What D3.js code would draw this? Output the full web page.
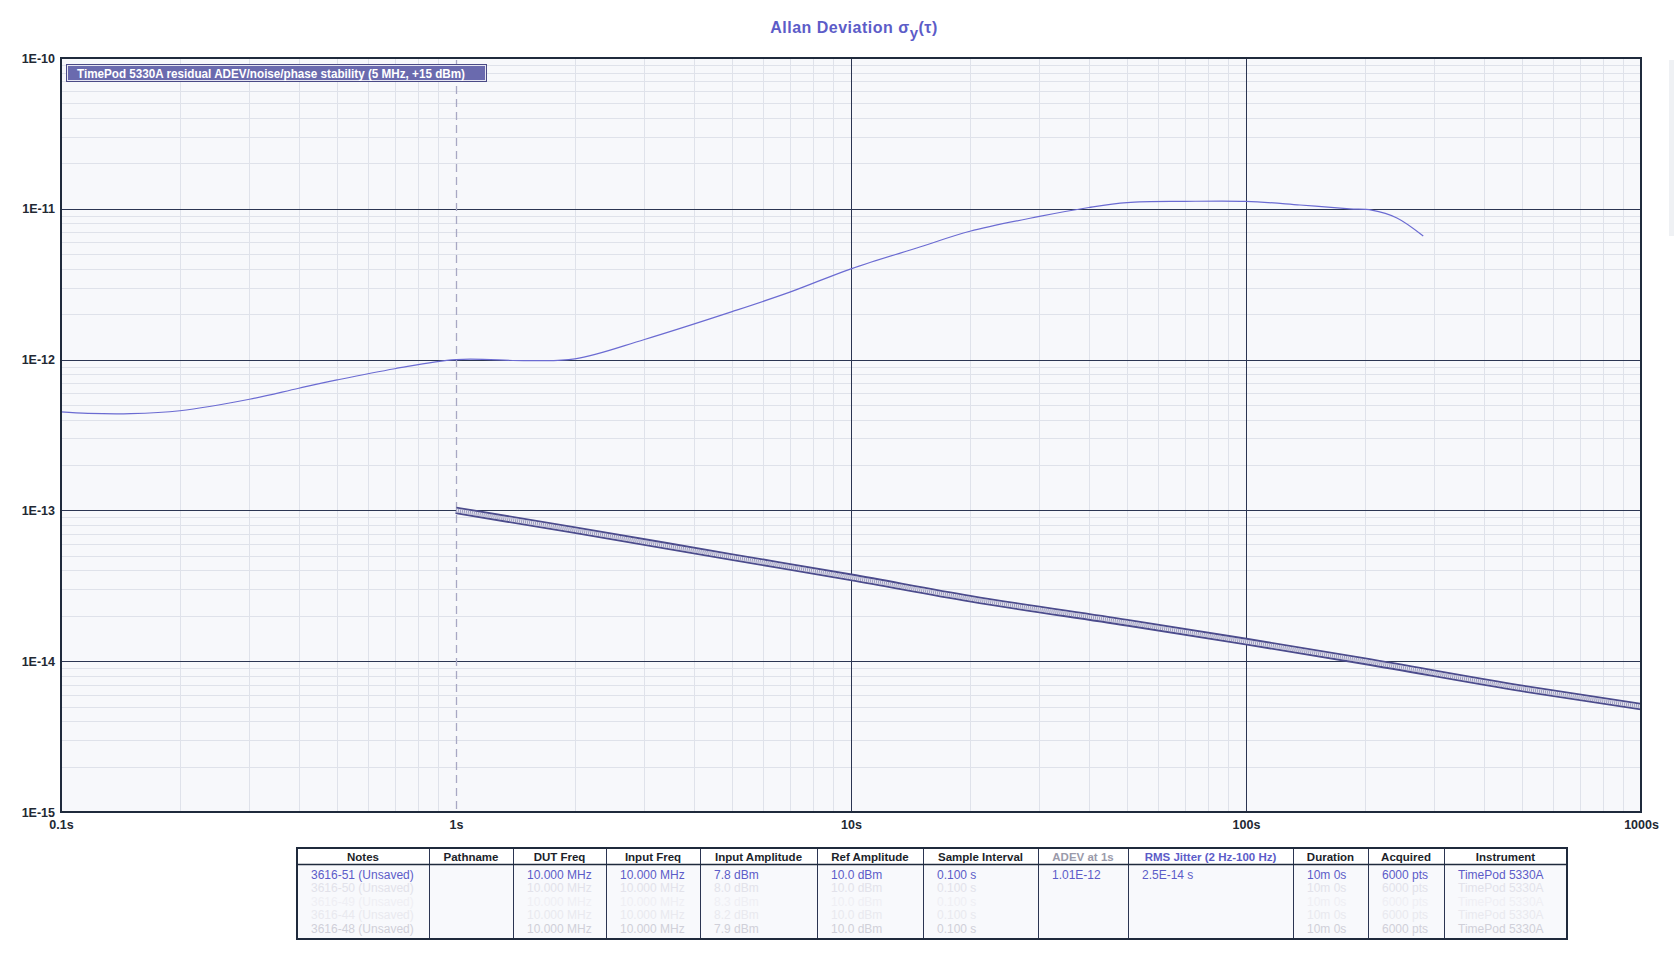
<!DOCTYPE html>
<html>
<head>
<meta charset="utf-8">
<script src="https://cdn.jsdelivr.net/npm/d3@7"></script>
<style>
  html, body { margin: 0; padding: 0; background: #ffffff; }
  svg { display: block; font-family: "Liberation Sans", Arial, sans-serif; }
</style>
</head>
<body>
<svg id="chart" width="1674" height="968"></svg>
<script>
// ---------------- data ----------------
const chartTitle = "Allan Deviation";
const legendLabel = "TimePod 5330A residual ADEV/noise/phase stability (5 MHz, +15 dBm)";

const xTickValues = [0.1, 1, 10, 100, 1000];
const xTickLabels = ["0.1s", "1s", "10s", "100s", "1000s"];
const yTickValues = [1e-10, 1e-11, 1e-12, 1e-13, 1e-14, 1e-15];
const yTickLabels = ["1E-10", "1E-11", "1E-12", "1E-13", "1E-14", "1E-15"];

// measured ADEV trace
const tauMeasured = [0.1, 0.117, 0.15, 0.2, 0.3, 0.4, 0.5, 0.7, 1, 1.5, 2, 3, 5, 7, 10, 15, 20, 30, 40, 50, 70, 100, 137, 183, 208, 241, 281];
const adevMeasured = [4.5e-13, 4.4e-13, 4.38e-13, 4.58e-13, 5.46e-13, 6.46e-13, 7.33e-13, 8.7e-13, 1.0e-12, 9.85e-13, 1.01e-12, 1.36e-12, 2.08e-12, 2.8e-12, 4.0e-12, 5.6e-12, 7.1e-12, 8.9e-12, 1.02e-11, 1.1e-11, 1.12e-11, 1.12e-11, 1.06e-11, 1.0e-11, 9.8e-12, 8.7e-12, 6.6e-12];

// residual (noise floor) trace
const tauResidual = [1, 2, 5, 10, 20, 50, 100, 200, 500, 1000];
const adevResidual = [1.0e-13, 7.4e-14, 4.9e-14, 3.6e-14, 2.6e-14, 1.8e-14, 1.35e-14, 1.0e-14, 6.6e-15, 5.0e-15];

// marker at tau = 1 s
const markerTau = 1;

// table
const tableHeaders = ["Notes", "Pathname", "DUT Freq", "Input Freq", "Input Amplitude", "Ref Amplitude", "Sample Interval", "ADEV at 1s", "RMS Jitter (2 Hz-100 Hz)", "Duration", "Acquired", "Instrument"];
const tableRows = [
  ["3616-51 (Unsaved)", "", "10.000 MHz", "10.000 MHz", "7.8 dBm", "10.0 dBm", "0.100 s", "1.01E-12", "2.5E-14 s", "10m 0s", "6000 pts", "TimePod 5330A"],
  ["3616-50 (Unsaved)", "", "10.000 MHz", "10.000 MHz", "8.0 dBm", "10.0 dBm", "0.100 s", "", "", "10m 0s", "6000 pts", "TimePod 5330A"],
  ["3616-49 (Unsaved)", "", "10.000 MHz", "10.000 MHz", "8.3 dBm", "10.0 dBm", "0.100 s", "", "", "10m 0s", "6000 pts", "TimePod 5330A"],
  ["3616-44 (Unsaved)", "", "10.000 MHz", "10.000 MHz", "8.2 dBm", "10.0 dBm", "0.100 s", "", "", "10m 0s", "6000 pts", "TimePod 5330A"],
  ["3616-48 (Unsaved)", "", "10.000 MHz", "10.000 MHz", "7.9 dBm", "10.0 dBm", "0.100 s", "", "", "10m 0s", "6000 pts", "TimePod 5330A"]
];

// ---------------- layout / style ----------------
const plot = { left: 61, right: 1641, top: 58, bottom: 812 };
const blue = "#5c5cc8";
const svg = d3.select("#chart");

const x = d3.scaleLog().domain([0.1, 1000]).range([plot.left, plot.right]);
const y = d3.scaleLog().domain([1e-10, 1e-15]).range([plot.top, plot.bottom]);

// title
const title = svg.append("text")
  .attr("x", (plot.left + plot.right) / 2 + 3).attr("y", 33)
  .attr("text-anchor", "middle")
  .attr("fill", blue).attr("font-size", 16).attr("font-weight", "bold")
  .style("letter-spacing", "0.5px");
title.append("tspan").text(chartTitle + " σ");
title.append("tspan").attr("font-size", 15).attr("dy", 5).text("y");
title.append("tspan").attr("dy", -5).text("(τ)");

// faint side strip at right edge
svg.append("rect").attr("x", 1669).attr("y", 60).attr("width", 5).attr("height", 176).attr("fill", "#eff1f4");

// plot background
svg.append("rect")
  .attr("x", plot.left).attr("y", plot.top)
  .attr("width", plot.right - plot.left).attr("height", plot.bottom - plot.top)
  .attr("fill", "#f7f8fb");

// grids
const minorX = [], minorY = [];
for (let e = -1; e < 3; e++) for (let m = 2; m <= 9; m++) minorX.push(m * Math.pow(10, e));
for (let e = -15; e < -10; e++) for (let m = 2; m <= 9; m++) minorY.push(m * Math.pow(10, e));
const majorX = xTickValues.slice(1, -1).filter(v => v !== markerTau);

const grid = svg.append("g");
grid.selectAll(".mx").data(minorX).join("line")
  .attr("x1", d => Math.round(x(d)) + 0.5).attr("x2", d => Math.round(x(d)) + 0.5)
  .attr("y1", plot.top).attr("y2", plot.bottom)
  .attr("stroke", "#dfe2ea").attr("stroke-width", 1);
grid.selectAll(".my").data(minorY).join("line")
  .attr("y1", d => Math.round(y(d)) + 0.5).attr("y2", d => Math.round(y(d)) + 0.5)
  .attr("x1", plot.left).attr("x2", plot.right)
  .attr("stroke", "#dfe2ea").attr("stroke-width", 1);
grid.selectAll(".Mx").data(majorX).join("line")
  .attr("x1", d => Math.round(x(d)) + 0.5).attr("x2", d => Math.round(x(d)) + 0.5)
  .attr("y1", plot.top).attr("y2", plot.bottom)
  .attr("stroke", "#2b3552").attr("stroke-width", 1);
grid.selectAll(".My").data(yTickValues.slice(1, -1)).join("line")
  .attr("y1", d => Math.round(y(d)) + 0.5).attr("y2", d => Math.round(y(d)) + 0.5)
  .attr("x1", plot.left).attr("x2", plot.right)
  .attr("stroke", "#2b3552").attr("stroke-width", 1);

// dashed marker line at 1 s
svg.append("line")
  .attr("x1", Math.round(x(markerTau)) + 0.5).attr("x2", Math.round(x(markerTau)) + 0.5)
  .attr("y1", plot.top + 2).attr("y2", plot.bottom)
  .attr("stroke", "#a8a8c4").attr("stroke-width", 1.3)
  .attr("stroke-dasharray", "8,5");

// curves
const smooth = d3.line().x(d => x(d[0])).y(d => y(d[1])).curve(d3.curveCatmullRom.alpha(0.5));
const line = d3.line().x(d => x(d[0])).y(d => y(d[1])).curve(d3.curveMonotoneX);
const measured = tauMeasured.map((t, i) => [t, adevMeasured[i]]);
const residual = tauResidual.map((t, i) => [t, adevResidual[i]]);

svg.append("path").datum(measured).attr("d", smooth)
  .attr("fill", "none").attr("stroke", "#6b6bd2").attr("stroke-width", 1.2);

svg.append("clipPath").attr("id", "plotclip").append("rect")
  .attr("x", plot.left).attr("y", plot.top)
  .attr("width", plot.right - plot.left).attr("height", plot.bottom - plot.top);

const band = svg.append("g").attr("clip-path", "url(#plotclip)");
band.append("path").datum(residual).attr("d", line)
  .attr("fill", "none").attr("stroke", "#4b4b8c").attr("stroke-width", 7.5);
band.append("path").datum(residual).attr("d", line)
  .attr("fill", "none").attr("stroke", "#e6e6ef").attr("stroke-width", 3.8);
band.append("path").datum(residual).attr("d", line)
  .attr("fill", "none").attr("stroke", "#9c9cbf").attr("stroke-width", 3.8)
  .attr("stroke-dasharray", "1,1");

// frame
svg.append("rect")
  .attr("x", plot.left).attr("y", plot.top)
  .attr("width", plot.right - plot.left).attr("height", plot.bottom - plot.top)
  .attr("fill", "none").attr("stroke", "#1f2a3c").attr("stroke-width", 2);

// legend
const lg = svg.append("g");
lg.append("rect").attr("x", 66.5).attr("y", 64.5).attr("width", 420).attr("height", 17)
  .attr("fill", "#6a6aae").attr("stroke", "#4a4a86").attr("stroke-width", 1);
lg.append("rect").attr("x", 67.5).attr("y", 65.5).attr("width", 418).attr("height", 15)
  .attr("fill", "none").attr("stroke", "#e6e6f2").attr("stroke-width", 1);
lg.append("text").attr("x", 77).attr("y", 77.5)
  .attr("fill", "#ffffff").attr("font-size", 12).attr("font-weight", "bold")
  .attr("textLength", 388).attr("lengthAdjust", "spacingAndGlyphs")
  .text(legendLabel);

// axes (labels only)
const xAxis = d3.axisBottom(x).tickValues(xTickValues)
  .tickFormat((d, i) => xTickLabels[i]).tickSize(0).tickPadding(0);
const gx = svg.append("g").attr("transform", `translate(0,${plot.bottom + 8})`).call(xAxis);
gx.select(".domain").remove();
gx.selectAll("text").attr("font-size", 12.5).attr("font-weight", "bold").attr("fill", "#222833")
  .attr("font-family", "Liberation Sans, Arial, sans-serif").attr("dy", "0.71em");

const yAxis = d3.axisLeft(y).tickValues(yTickValues)
  .tickFormat((d, i) => yTickLabels[i]).tickSize(0).tickPadding(0);
const gy = svg.append("g").attr("transform", `translate(${plot.left - 6},0)`).call(yAxis);
gy.select(".domain").remove();
gy.selectAll("text").attr("font-size", 12.5).attr("font-weight", "bold").attr("fill", "#222833")
  .attr("font-family", "Liberation Sans, Arial, sans-serif");

// table
const colEdges = [297, 429, 513, 606, 700, 817, 923, 1038, 1128, 1293, 1368, 1444, 1567];
const tbl = { top: 848, head: 864, bottom: 939 };
const rowY = [874.5, 888, 901.5, 915, 929];
const rowColors = [blue, "#e2e2ea", "#efeff4", "#e9e9ef", "#d0d0d9"];
const headColors = tableHeaders.map(h => h === "ADEV at 1s" ? "#9a9aaa" : (h.startsWith("RMS") ? blue : "#1c1f2a"));

const tg = svg.append("g");
tg.append("rect").attr("x", colEdges[0]).attr("y", tbl.top)
  .attr("width", colEdges[colEdges.length - 1] - colEdges[0]).attr("height", tbl.head - tbl.top)
  .attr("fill", "#ffffff");
tg.append("rect").attr("x", colEdges[0]).attr("y", tbl.head)
  .attr("width", colEdges[colEdges.length - 1] - colEdges[0]).attr("height", tbl.bottom - tbl.head)
  .attr("fill", "#f8f9fc");

// row texts (faint first)
for (let r = tableRows.length - 1; r >= 0; r--) {
  tg.append("g").selectAll("text").data(tableRows[r]).join("text")
    .attr("x", (d, i) => colEdges[i] + 14)
    .attr("y", rowY[r]).attr("dy", "0.35em")
    .attr("font-size", 12).attr("fill", rowColors[r])
    .text(d => d);
}

tg.selectAll(".hd").data(tableHeaders).join("text")
  .attr("x", (d, i) => (colEdges[i] + colEdges[i + 1]) / 2)
  .attr("y", (tbl.top + tbl.head) / 2 + 1).attr("dy", "0.35em")
  .attr("text-anchor", "middle").attr("font-size", 11.5).attr("font-weight", "bold")
  .attr("fill", (d, i) => headColors[i])
  .text(d => d);

tg.selectAll(".sep").data(colEdges.slice(1, -1)).join("line")
  .attr("x1", d => d + 0.5).attr("x2", d => d + 0.5)
  .attr("y1", tbl.top).attr("y2", tbl.bottom)
  .attr("stroke", "#2b3552").attr("stroke-width", 1);
tg.append("line").attr("x1", colEdges[0]).attr("x2", colEdges[colEdges.length - 1])
  .attr("y1", tbl.head + 0.5).attr("y2", tbl.head + 0.5)
  .attr("stroke", "#1f2a3c").attr("stroke-width", 1.5);
tg.append("rect").attr("x", colEdges[0]).attr("y", tbl.top)
  .attr("width", colEdges[colEdges.length - 1] - colEdges[0]).attr("height", tbl.bottom - tbl.top)
  .attr("fill", "none").attr("stroke", "#1f2a3c").attr("stroke-width", 2);
</script>
</body>
</html>
